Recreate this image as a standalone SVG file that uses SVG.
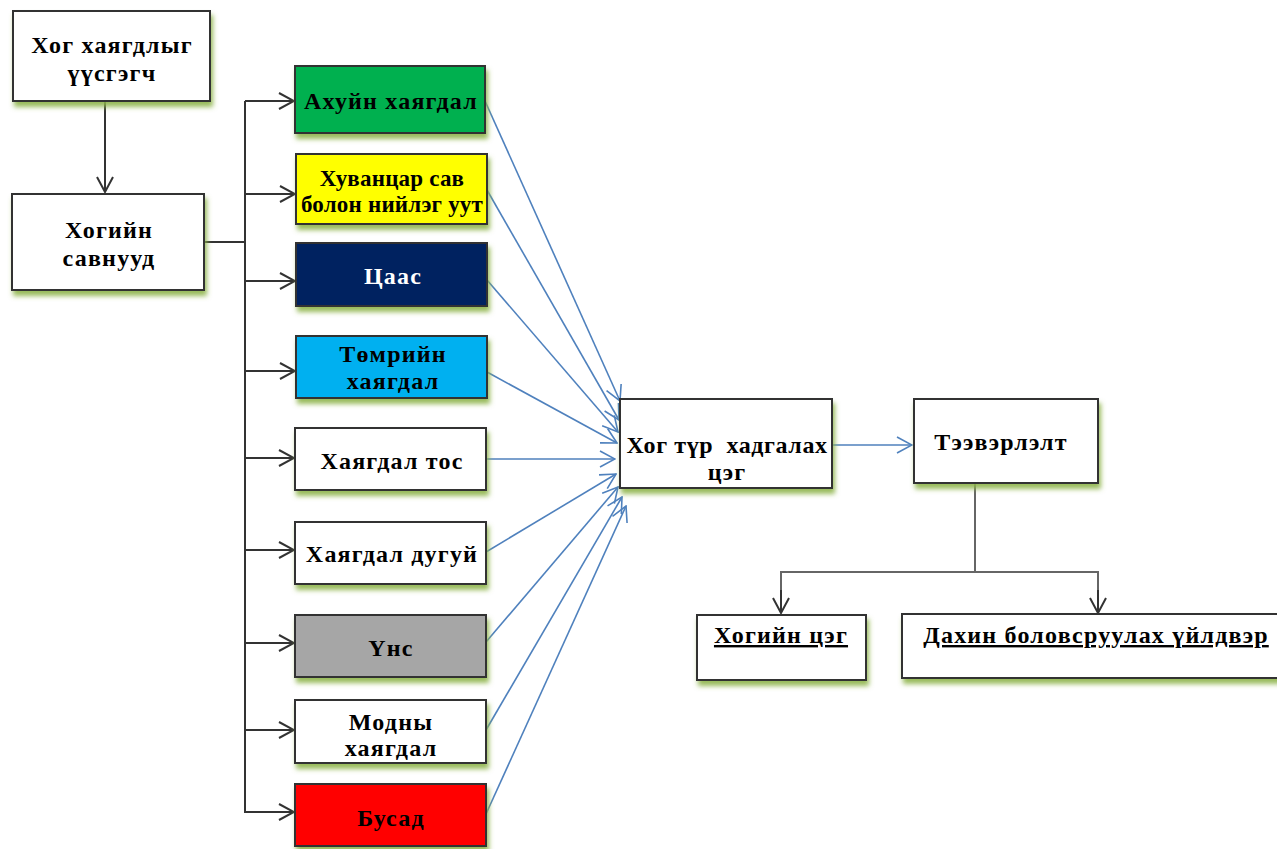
<svg xmlns="http://www.w3.org/2000/svg" width="1277" height="849" viewBox="0 0 1277 849">
<defs>
<filter id="sh" x="-10%" y="-10%" width="120%" height="140%">
<feDropShadow dx="2" dy="5" stdDeviation="2.5" flood-color="#8DB34A" flood-opacity="0.9"/>
</filter>
<marker id="ab" viewBox="0 0 20 20" refX="19" refY="10" markerWidth="20" markerHeight="20" markerUnits="userSpaceOnUse" orient="auto">
<path d="M4,2 L19,10 L4,18" fill="none" stroke="#333" stroke-width="2"/>
</marker>
<marker id="ablue" viewBox="0 0 20 20" refX="19" refY="10" markerWidth="20" markerHeight="20" markerUnits="userSpaceOnUse" orient="auto">
<path d="M4,2 L19,10 L4,18" fill="none" stroke="#4F81BD" stroke-width="1.6"/>
</marker>
</defs>
<style>
.box{stroke:#333;stroke-width:2;filter:url(#sh)}
.t{font-family:"Liberation Serif","Times New Roman",serif;font-weight:bold;font-size:24px;letter-spacing:1.2px;text-anchor:middle;fill:#000}
.y{font-size:23px;letter-spacing:0.2px}
.c{letter-spacing:0.6px}
.w{fill:#fff}
.u{text-decoration:underline}
.k{fill:none;stroke:#333;stroke-width:2}
.b{fill:none;stroke:#4F81BD;stroke-width:1.6}
</style>
<rect width="1277" height="849" fill="#fff"/>
<g id="connectors">
<line class="k" x1="105" y1="101" x2="105" y2="192" marker-end="url(#ab)"/>
<polyline class="k" points="204,242 245,242"/>
<line class="k" x1="245" y1="101" x2="245" y2="813"/>
<line class="k" x1="245" y1="101" x2="294" y2="101" marker-end="url(#ab)"/>
<line class="k" x1="245" y1="194" x2="295" y2="194" marker-end="url(#ab)"/>
<line class="k" x1="245" y1="281" x2="295" y2="281" marker-end="url(#ab)"/>
<line class="k" x1="245" y1="371" x2="295" y2="371" marker-end="url(#ab)"/>
<line class="k" x1="245" y1="458" x2="294" y2="458" marker-end="url(#ab)"/>
<line class="k" x1="245" y1="550" x2="294" y2="550" marker-end="url(#ab)"/>
<line class="k" x1="245" y1="643" x2="294" y2="643" marker-end="url(#ab)"/>
<line class="k" x1="245" y1="730" x2="294" y2="730" marker-end="url(#ab)"/>
<line class="k" x1="245" y1="812" x2="294" y2="812" marker-end="url(#ab)"/>
<line class="b" x1="485" y1="101" x2="620" y2="401" marker-end="url(#ablue)"/>
<line class="b" x1="487" y1="190" x2="619" y2="420" marker-end="url(#ablue)"/>
<line class="b" x1="487" y1="280" x2="618" y2="432" marker-end="url(#ablue)"/>
<line class="b" x1="487" y1="372" x2="617" y2="443" marker-end="url(#ablue)"/>
<line class="b" x1="486" y1="459" x2="615" y2="459" marker-end="url(#ablue)"/>
<line class="b" x1="486" y1="552" x2="616" y2="474" marker-end="url(#ablue)"/>
<line class="b" x1="486" y1="642" x2="618" y2="487" marker-end="url(#ablue)"/>
<line class="b" x1="486" y1="730" x2="622" y2="497" marker-end="url(#ablue)"/>
<line class="b" x1="486" y1="814" x2="626" y2="506" marker-end="url(#ablue)"/>
<line class="b" x1="832" y1="445" x2="912" y2="445" marker-end="url(#ablue)"/>
<line class="k" x1="975" y1="483" x2="975" y2="572" style="stroke:#666"/>
<polyline class="k" points="781,612 781,572 1098,572 1098,612" style="stroke:#666"/>
<line class="k" x1="781" y1="590" x2="781" y2="613" marker-end="url(#ab)"/>
<line class="k" x1="1098" y1="590" x2="1098" y2="613" marker-end="url(#ab)"/>
</g>
<g id="n1"><rect class="box" x="13" y="11" width="197" height="90" fill="#fff"/><text class="t" x="112" y="53">Хог хаягдлыг</text><text class="t" x="112" y="81">үүсгэгч</text></g>
<g id="n2"><rect class="box" x="12" y="194" width="192" height="96" fill="#fff"/><text class="t" x="109" y="238">Хогийн</text><text class="t" x="109" y="266">савнууд</text></g>
<g id="n3"><rect class="box" x="295" y="66" width="190" height="67" fill="#00B050"/><text class="t" x="391" y="109">Ахуйн хаягдал</text></g>
<g id="n4"><rect class="box" x="296" y="154" width="191" height="70" fill="#FFFF00"/><text class="t y" x="392" y="186">Хуванцар сав</text><text class="t y" x="392" y="212">болон нийлэг уут</text></g>
<g id="n5"><rect class="box" x="296" y="243" width="191" height="63" fill="#002060"/><text class="t w" x="393" y="284">Цаас</text></g>
<g id="n6"><rect class="box" x="296" y="336" width="191" height="62" fill="#00B0F0"/><text class="t" x="393" y="362">Төмрийн</text><text class="t" x="393" y="389">хаягдал</text></g>
<g id="n7"><rect class="box" x="295" y="428" width="191" height="62" fill="#fff"/><text class="t" x="392" y="469">Хаягдал тос</text></g>
<g id="n8"><rect class="box" x="295" y="522" width="191" height="62" fill="#fff"/><text class="t" x="392" y="562">Хаягдал дугуй</text></g>
<g id="n9"><rect class="box" x="295" y="615" width="191" height="62" fill="#A6A6A6"/><text class="t" x="391" y="656">Үнс</text></g>
<g id="n10"><rect class="box" x="295" y="700" width="191" height="63" fill="#fff"/><text class="t" x="391" y="730">Модны</text><text class="t" x="391" y="756">хаягдал</text></g>
<g id="n11"><rect class="box" x="295" y="784" width="191" height="62" fill="#FF0000"/><text class="t" x="391" y="826">Бусад</text></g>
<g id="n12"><rect class="box" x="620" y="399" width="212" height="89" fill="#fff"/><text class="t c" x="727" y="453" xml:space="preserve">Хог түр  хадгалах</text><text class="t" x="727" y="480">цэг</text></g>
<g id="n13"><rect class="box" x="914" y="399" width="184" height="84" fill="#fff"/><text class="t" x="1001" y="450">Тээвэрлэлт</text></g>
<g id="n14"><rect class="box" x="697" y="615" width="169" height="65" fill="#fff"/><text class="t u" x="781" y="643">Хогийн цэг</text></g>
<g id="n15"><rect class="box" x="902" y="614" width="380" height="64" fill="#fff"/><text class="t u" x="1096" y="643">Дахин боловсруулах үйлдвэр</text></g>
</svg>
